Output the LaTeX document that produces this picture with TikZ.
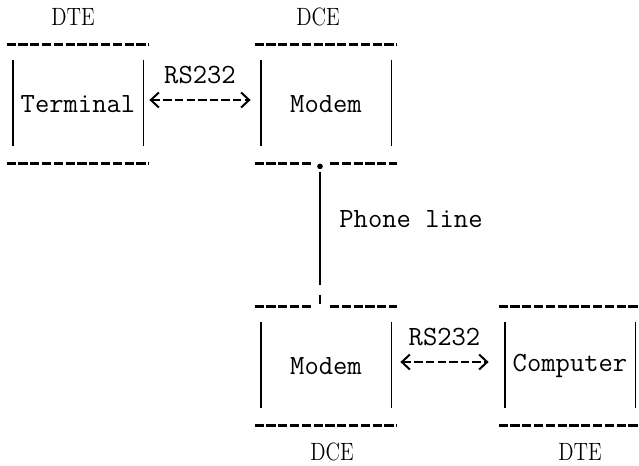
\documentclass[tikz,border=0pt]{standalone}
\usepackage{tikz}
\usetikzlibrary{positioning,calc,arrows.meta}

\tikzset{
  dashrule/.style={line width=1.2pt, dash pattern=on 4.6pt off 1.3pt},
  siderule/.style={line width=0.9pt},
  link/.style={line width=1pt, dash pattern=on 4.2pt off 1.6pt,
    {Straight Barb[length=4pt,width=7.5pt]}-{Straight Barb[length=4pt,width=7.5pt]}},
  unit/.style={minimum width=71pt, minimum height=59pt, inner sep=0pt,
    font=\fontsize{13.9}{16}\ttfamily},
  tty/.style={inner sep=0pt, font=\fontsize{13.9}{16}\ttfamily},
  role/.style={inner sep=0pt, font=\fontsize{12.5}{14}\rmfamily, xscale=0.82, transform shape},
}

% side bars of an ascii box
\newcommand{\asciisides}[1]{%
  \draw[siderule] ([shift={(3pt,-7.5pt)}]#1.north west) -- ([shift={(3pt,8.5pt)}]#1.south west);
  \draw[siderule] ([shift={(-3pt,-7.5pt)}]#1.north east) -- ([shift={(-3pt,8.5pt)}]#1.south east);
}

\begin{document}
\begin{tikzpicture}[x=0.5pt, y=-0.5pt]
    \useasboundingbox (0,0) rectangle (639,466);

    \node[unit] (term) at (78,104) {Terminal};
    \node[unit] (modemA) at (326,104) {Modem};
    \node[unit] (modemB) at (326,366) {Modem};
    \node[unit] (comp) at (570,366) {Computer};

    \node[role] (dteA) at (73,17) {DTE};
    \node[role] (dceA) at (318,17) {DCE};
    \node[role] (dceB) at (332,452) {DCE};
    \node[role] (dteB) at (580,452) {DTE};

    \foreach \b in {term,modemA,modemB,comp} {\asciisides{\b}}

    \foreach \b in {term,modemA,comp}
        \draw[dashrule] (\b.north west) -- (\b.north east);
    \foreach \b in {term,modemB,comp}
        \draw[dashrule] (\b.south west) -- (\b.south east);

    % phone line between the modems
    \coordinate (jA) at ([xshift=-3pt]modemA.south);
    \coordinate (jB) at ([xshift=-3pt]modemB.north);
    \draw[dashrule] (modemA.south west) -- ([xshift=-4pt]jA);
    \draw[dashrule] ([xshift=5pt]jA) -- (modemA.south east);
    \draw[dashrule] (modemB.north west) -- ([xshift=-4pt]jB);
    \draw[dashrule] ([xshift=5pt]jB) -- (modemB.north east);
    \fill (jA) ++(0,-1.5pt) circle (1.4pt);
    \draw[line width=1.1pt] ([yshift=-4.5pt]jA) -- ([yshift=11pt]jB);
    \draw[line width=1.1pt] ([yshift=6pt]jB) -- ([yshift=1.5pt]jB);
    \node[tty, anchor=west] (phone) at (339,219) {Phone line};

    \draw[link] ([shift={(0pt,2pt)}]term.east) -- ([shift={(-2pt,2pt)}]modemA.west)
        node[tty, midway, yshift=12.5pt] (rsA) {RS232};
    \draw[link] ([shift={(1.5pt,2pt)}]modemB.east) -- ([shift={(-5pt,2pt)}]comp.west)
        node[tty, midway, yshift=12.5pt] (rsB) {RS232};
\end{tikzpicture}
\end{document}
